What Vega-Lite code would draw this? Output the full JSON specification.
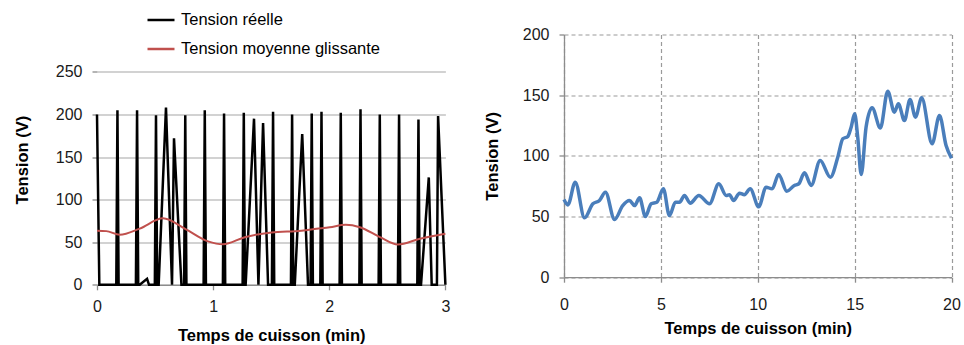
{
  "$schema": "https://vega.github.io/schema/vega-lite/v6.json",
  "padding": {"left": 14, "top": 4.5, "right": 0, "bottom": 0},
  "config": {
    "font": "Liberation Sans",
    "view": {"stroke": null},
    "axis": {
      "labelFont": "Liberation Sans", "labelFontSize": 16, "labelColor": "#1a1a1a",
      "titleFont": "Liberation Sans", "titleFontSize": 16.5, "titleFontWeight": "bold", "titleColor": "#000000",
      "domainColor": "#8c8c8c", "tickColor": "#8c8c8c", "domainWidth": 1.3, "tickWidth": 1.3, "tickSize": 5,
      "labelFlush": false, "labelOverlap": false
    }
  },
  "datasets": {
    "reelle": [
      {"t": 0, "v": 200}, {"t": 0.02, "v": 0},
      {"t": 0.166, "v": 0}, {"t": 0.176, "v": 205}, {"t": 0.186, "v": 0},
      {"t": 0.335, "v": 0}, {"t": 0.345, "v": 205}, {"t": 0.355, "v": 0},
      {"t": 0.368, "v": 0}, {"t": 0.431, "v": 7}, {"t": 0.448, "v": 0},
      {"t": 0.498, "v": 0}, {"t": 0.508, "v": 199}, {"t": 0.518, "v": 0},
      {"t": 0.531, "v": 0}, {"t": 0.594, "v": 208}, {"t": 0.646, "v": 0}, {"t": 0.663, "v": 172}, {"t": 0.727, "v": 0},
      {"t": 0.75, "v": 0}, {"t": 0.76, "v": 199}, {"t": 0.77, "v": 0},
      {"t": 0.918, "v": 0}, {"t": 0.928, "v": 205}, {"t": 0.938, "v": 0},
      {"t": 1.084, "v": 0}, {"t": 1.094, "v": 201}, {"t": 1.104, "v": 0},
      {"t": 1.254, "v": 0}, {"t": 1.264, "v": 202}, {"t": 1.274, "v": 0},
      {"t": 1.28, "v": 0}, {"t": 1.352, "v": 195}, {"t": 1.39, "v": 0}, {"t": 1.43, "v": 190}, {"t": 1.473, "v": 0},
      {"t": 1.506, "v": 0}, {"t": 1.516, "v": 203}, {"t": 1.526, "v": 0},
      {"t": 1.67, "v": 0}, {"t": 1.68, "v": 200}, {"t": 1.69, "v": 0},
      {"t": 1.703, "v": 0}, {"t": 1.767, "v": 177}, {"t": 1.817, "v": 0},
      {"t": 1.839, "v": 0}, {"t": 1.849, "v": 201}, {"t": 1.859, "v": 0},
      {"t": 1.923, "v": 0}, {"t": 1.933, "v": 203}, {"t": 1.943, "v": 0},
      {"t": 2.089, "v": 0}, {"t": 2.099, "v": 202}, {"t": 2.109, "v": 0},
      {"t": 2.259, "v": 0}, {"t": 2.269, "v": 206}, {"t": 2.279, "v": 0},
      {"t": 2.425, "v": 0}, {"t": 2.435, "v": 200}, {"t": 2.445, "v": 0},
      {"t": 2.591, "v": 0}, {"t": 2.601, "v": 200}, {"t": 2.611, "v": 0},
      {"t": 2.758, "v": 0}, {"t": 2.768, "v": 194}, {"t": 2.778, "v": 0},
      {"t": 2.79, "v": 0}, {"t": 2.857, "v": 126}, {"t": 2.882, "v": 0},
      {"t": 2.927, "v": 0}, {"t": 2.937, "v": 198}, {"t": 3.0, "v": 0}
    ],
    "moyenne": [
      {"t": 0, "v": 63.5}, {"t": 0.08, "v": 63}, {"t": 0.196, "v": 58.7}, {"t": 0.368, "v": 66},
      {"t": 0.568, "v": 78}, {"t": 0.755, "v": 66}, {"t": 0.956, "v": 51}, {"t": 1.085, "v": 47.5},
      {"t": 1.272, "v": 55.9}, {"t": 1.502, "v": 61.5}, {"t": 1.761, "v": 63.5}, {"t": 1.89, "v": 65.7},
      {"t": 2.004, "v": 67.6}, {"t": 2.142, "v": 70.4}, {"t": 2.263, "v": 67.6}, {"t": 2.436, "v": 56},
      {"t": 2.59, "v": 47.3}, {"t": 2.78, "v": 54}, {"t": 3.0, "v": 60}
    ],
    "droite": [
      {"t": 0, "v": 64}, {"t": 0.2, "v": 59.6}, {"t": 0.58, "v": 78.3}, {"t": 1.06, "v": 48.9},
      {"t": 1.49, "v": 60.5}, {"t": 1.83, "v": 63.2}, {"t": 2.14, "v": 70}, {"t": 2.61, "v": 47.5},
      {"t": 3.03, "v": 59}, {"t": 3.38, "v": 63.2}, {"t": 3.64, "v": 59}, {"t": 3.9, "v": 65.4},
      {"t": 4.2, "v": 50}, {"t": 4.5, "v": 60.5}, {"t": 4.79, "v": 61.8}, {"t": 5.13, "v": 72.8},
      {"t": 5.44, "v": 50.8}, {"t": 5.75, "v": 61.8}, {"t": 5.96, "v": 61.8}, {"t": 6.22, "v": 67.3},
      {"t": 6.51, "v": 61}, {"t": 6.96, "v": 67.3}, {"t": 7.51, "v": 60.5}, {"t": 7.99, "v": 77},
      {"t": 8.37, "v": 67.3}, {"t": 8.54, "v": 68}, {"t": 8.75, "v": 63.2}, {"t": 9.06, "v": 69.2},
      {"t": 9.31, "v": 68}, {"t": 9.61, "v": 72.8}, {"t": 10.05, "v": 58}, {"t": 10.43, "v": 74.2},
      {"t": 10.74, "v": 72.8}, {"t": 11.08, "v": 84.6}, {"t": 11.5, "v": 70.9}, {"t": 11.89, "v": 75.6},
      {"t": 12.12, "v": 77}, {"t": 12.41, "v": 86}, {"t": 12.76, "v": 75.6}, {"t": 13.22, "v": 96.2},
      {"t": 13.75, "v": 82.4}, {"t": 14.13, "v": 98.9}, {"t": 14.39, "v": 114}, {"t": 14.65, "v": 116},
      {"t": 14.82, "v": 123.6}, {"t": 15.0, "v": 134.6}, {"t": 15.16, "v": 115.4}, {"t": 15.34, "v": 84.6},
      {"t": 15.59, "v": 123.6}, {"t": 15.9, "v": 139.6}, {"t": 16.33, "v": 123}, {"t": 16.71, "v": 153.3},
      {"t": 17.05, "v": 136}, {"t": 17.26, "v": 142.9}, {"t": 17.57, "v": 129.1}, {"t": 17.86, "v": 146.4},
      {"t": 18.14, "v": 131.9}, {"t": 18.46, "v": 147.8}, {"t": 19.0, "v": 109.9}, {"t": 19.38, "v": 133.3},
      {"t": 19.72, "v": 108.5}, {"t": 20.0, "v": 98}
    ]
  },
  "hconcat": [
    {
      "width": 348.4,
      "height": 250.3,
      "encoding": {
        "x": {
          "field": "t", "type": "quantitative",
          "scale": {"domain": [0, 3], "nice": false},
          "axis": {"values": [0, 1, 2, 3], "grid": false, "format": "d", "title": "Temps de cuisson (min)", "labelPadding": 8.5, "titlePadding": 13}
        },
        "y": {
          "field": "v", "type": "quantitative",
          "scale": {"domain": [0, 293.8], "nice": false},
          "axis": {"values": [0, 50, 100, 150, 200, 250], "domain": false, "grid": true, "gridColor": "#a6a6a6", "gridWidth": 1.2, "title": "Tension (V)", "labelPadding": 10, "titlePadding": 25}
        }
      },
      "layer": [
        {
          "data": {"values": [{}]},
          "mark": {"type": "rule", "color": "#8c8c8c", "strokeWidth": 1.3},
          "encoding": {"x": {"datum": 0}, "y": {"datum": 0}, "y2": {"datum": 250}}
        },
        {
          "data": {"name": "reelle"},
          "mark": {"type": "line", "strokeWidth": 2.5, "interpolate": "linear"},
          "encoding": {
            "color": {
              "datum": "Tension réelle",
              "scale": {"domain": ["Tension réelle", "Tension moyenne glissante"], "range": ["#000000", "#C0504D"]},
              "legend": {
                "orient": "none", "legendX": 49, "legendY": -29.5, "title": null, "direction": "vertical",
                "symbolType": "stroke", "symbolSize": 729, "symbolStrokeWidth": 2.5, "labelLimit": 0,
                "labelFont": "Liberation Sans", "labelFontSize": 16.5, "labelColor": "#000000", "labelOffset": 5, "rowPadding": 5
              }
            }
          }
        },
        {
          "data": {"name": "moyenne"},
          "mark": {"type": "line", "strokeWidth": 2, "interpolate": "monotone"},
          "encoding": {"color": {"datum": "Tension moyenne glissante"}}
        }
      ]
    },
    {
      "width": 387.5,
      "height": 242.7,
      "data": {"name": "droite"},
      "mark": {"type": "line", "color": "#4A7EBB", "strokeWidth": 3.5, "interpolate": "monotone"},
      "encoding": {
        "x": {
          "field": "t", "type": "quantitative",
          "scale": {"domain": [0, 20], "nice": false},
          "axis": {"values": [0, 5, 10, 15, 20], "grid": true, "gridColor": "#9a9a9a", "gridDash": [4, 3], "gridWidth": 1.2, "title": "Temps de cuisson (min)", "labelPadding": 13.8, "titlePadding": 8}
        },
        "y": {
          "field": "v", "type": "quantitative",
          "scale": {"domain": [0, 200], "nice": false},
          "axis": {"values": [0, 50, 100, 150, 200], "grid": true, "gridColor": "#9a9a9a", "gridDash": [4, 3], "gridWidth": 1.2, "title": "Tension (V)", "labelPadding": 10, "titlePadding": 22}
        }
      }
    }
  ],
  "spacing": 33
}
